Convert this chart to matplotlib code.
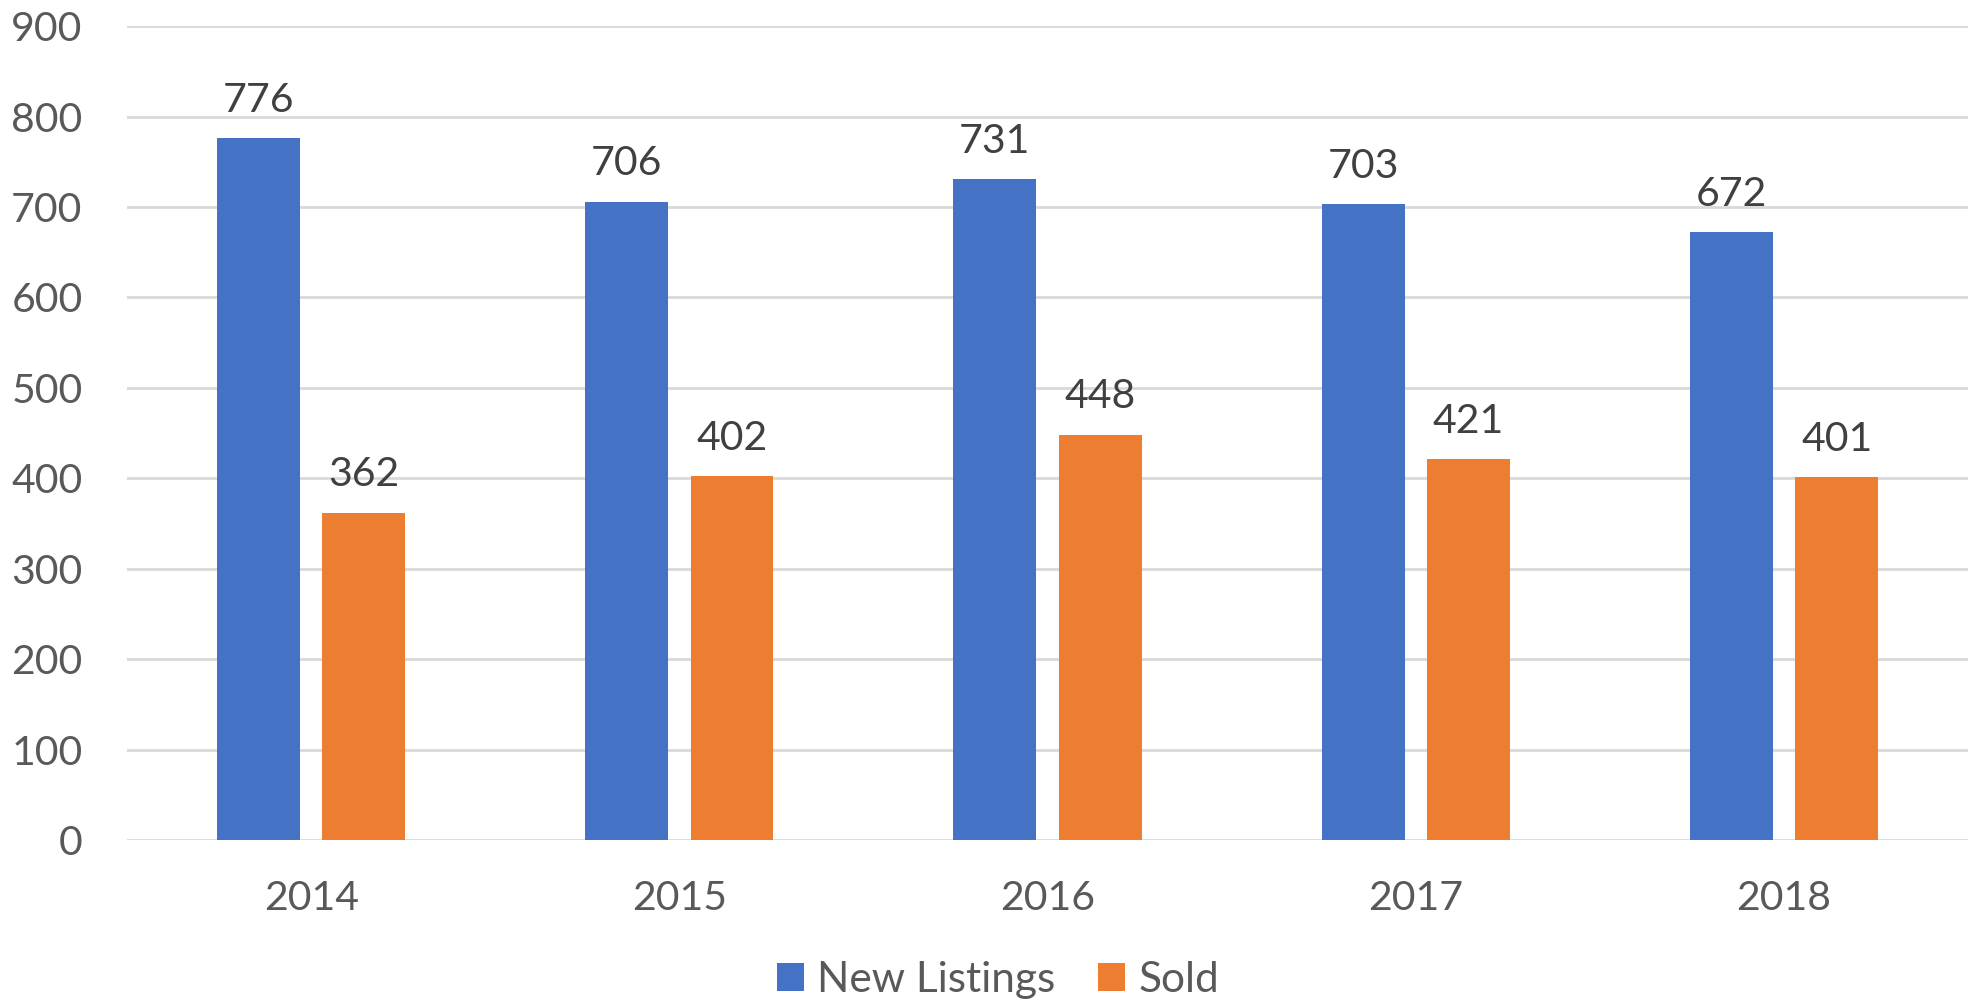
import matplotlib.pyplot as plt
import numpy as np

plt.rcParams['font.family'] = ['Lato', 'DejaVu Sans']

years = ['2014', '2015', '2016', '2017', '2018']
newListings = [776, 706, 731, 703, 672]
sold = [362, 402, 448, 421, 401]

xAxis = np.arange(len(years))
w = 0.225
off = 0.143

fig = plt.figure(figsize=(19.76, 10.06), dpi=100)
ax = fig.add_axes([0.0643, 0.165, 0.9317, 0.809])

b1 = ax.bar(xAxis - off, newListings, w, color='#4472c4', label='New Listings', zorder=3)
b2 = ax.bar(xAxis + off, sold, w, color='#ed7d31', label='Sold', zorder=3)

for bars in (b1, b2):
    for rect in bars:
        ax.annotate(str(int(rect.get_height())),
                    (rect.get_x() + rect.get_width() / 2, rect.get_height()),
                    xytext=(0, 14), textcoords='offset points',
                    ha='center', va='bottom', fontsize=29.5, color='#404040')

ax.set_xlim(-0.5, len(years) - 0.5)
ax.set_ylim(0, 900)
ax.set_yticks(range(0, 901, 100))
ax.set_xticks(xAxis, years)
ax.grid(axis='y', color='#d9d9d9', linewidth=2, zorder=0)
for s in ax.spines.values():
    s.set_visible(False)
ax.tick_params(axis='both', length=0, labelsize=29.5, labelcolor='#595959')
ax.tick_params(axis='y', pad=32)
ax.tick_params(axis='x', pad=29)

fig.legend(loc='center', bbox_to_anchor=(0.505, 0.026), ncol=2, frameon=False,
           fontsize=30.5, labelcolor='#595959', handlelength=0.65, handleheight=0.65,
           handletextpad=0.3, columnspacing=1.0)

fig.savefig('out.png')
